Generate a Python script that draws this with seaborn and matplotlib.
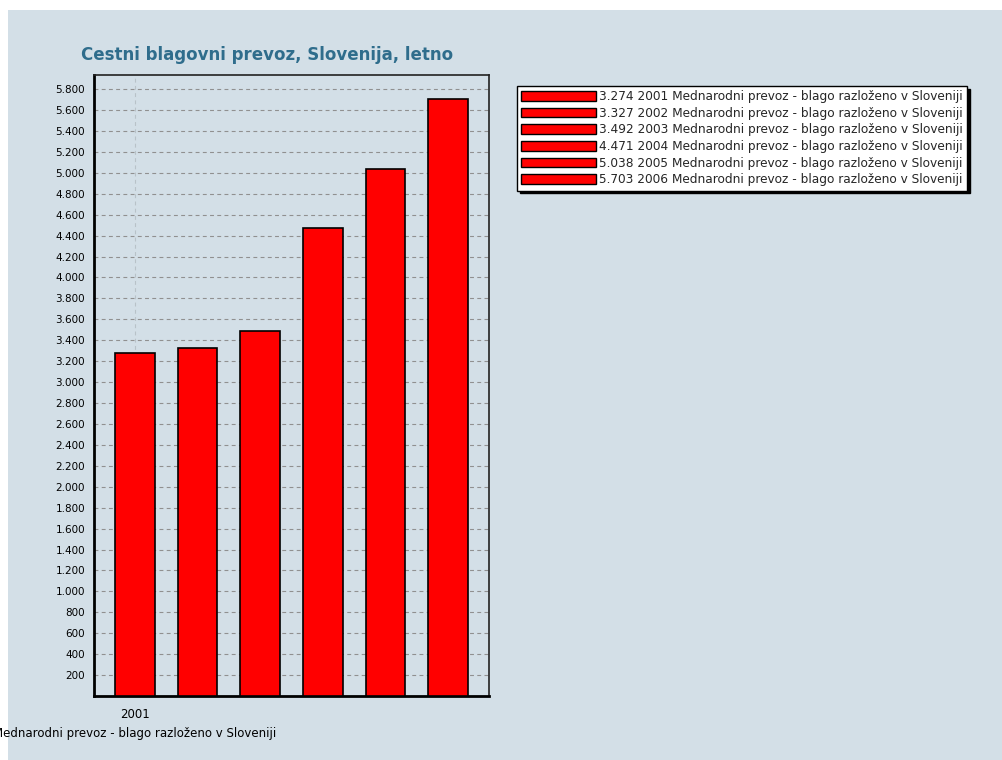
import matplotlib
matplotlib.use("Agg")
import matplotlib.pyplot as plt
import matplotlib.ticker as mticker
from matplotlib.patches import Rectangle, Patch
import seaborn as sns
import pandas as pd

years = ["2001", "2002", "2003", "2004", "2005", "2006"]
values = [3274, 3327, 3492, 4471, 5038, 5703]
series_name = "Mednarodni prevoz - blago razloženo v Sloveniji"
title = "Cestni blagovni prevoz, Slovenija, letno"
y_ticks = list(range(200, 5801, 200))

def fmt_thousands(v):
    return f"{int(v):,}".replace(",", ".")

df = pd.DataFrame({"year": years, "value": values})

sns.set_theme(style="white")
plt.rcParams["font.family"] = ["DejaVu Sans"]

BG = "#d3dfe7"
W, H = 1002, 760
fig = plt.figure(figsize=(W / 100, H / 100), dpi=100, facecolor="white")
fig.patches.append(Rectangle((8 / W, 0), 1 - 8 / W, 1 - 10 / H, transform=fig.transFigure,
                             facecolor=BG, edgecolor="none", zorder=-10))

left, right, top, bottom = 94, 489, 75, 696
ax = fig.add_axes([left / W, 1 - bottom / H, (right - left) / W, (bottom - top) / H])
ax.set_facecolor(BG)

sns.barplot(data=df, x="year", y="value", ax=ax, color="#ff0000", edgecolor="black",
            linewidth=1.2, width=0.63, saturation=1, zorder=3)

ax.set_ylim(0, 5935)
ax.set_xlim(-0.65, 5.65)
ax.set_yticks(y_ticks)
ax.yaxis.set_major_formatter(mticker.FuncFormatter(lambda v, p: fmt_thousands(v)))
ax.set_xticks([0])
ax.set_xticklabels([years[0] + "\n" + series_name], linespacing=1.5, fontsize=8.5)
ax.tick_params(axis="y", labelsize=7.5, colors="black", length=3, width=0.8)
ax.tick_params(axis="x", length=0, pad=9, colors="black")
ax.set_xlabel("")
ax.set_ylabel("")

ax.grid(True, axis="y", linestyle=(0, (3.5, 3)), color="#909090", linewidth=0.8, zorder=0)
ax.grid(True, axis="x", linestyle=(0, (3.5, 3)), color="#b8c2c8", linewidth=0.8, zorder=0)

for s in ["left", "bottom"]:
    ax.spines[s].set_color("black")
    ax.spines[s].set_linewidth(2)
for s in ["top", "right"]:
    ax.spines[s].set_color("#222222")
    ax.spines[s].set_linewidth(1.2)

fig.text(267 / W, 1 - 55 / H, title, ha="center", va="center", fontsize=12,
         fontweight="bold", color="#2f6d8c")

handles = [Patch(facecolor="#ff0000", edgecolor="black", linewidth=1) for _ in years]
labels = [f"{fmt_thousands(v)} {y} {series_name}" for v, y in zip(values, years)]
leg = fig.legend(handles, labels, loc="upper left", bbox_to_anchor=(517 / W, 1 - 86 / H),
                 bbox_transform=fig.transFigure, fontsize=8.7, frameon=True, fancybox=False,
                 shadow={"color": "black", "alpha": 1}, handlelength=6.2, handleheight=0.85,
                 handletextpad=0.25, labelspacing=0.3, borderpad=0.35, borderaxespad=0)
leg.get_frame().set_edgecolor("black")
leg.get_frame().set_facecolor("white")
leg.get_frame().set_linewidth(1)

fig.savefig("out.png", dpi=100, facecolor=fig.get_facecolor())
